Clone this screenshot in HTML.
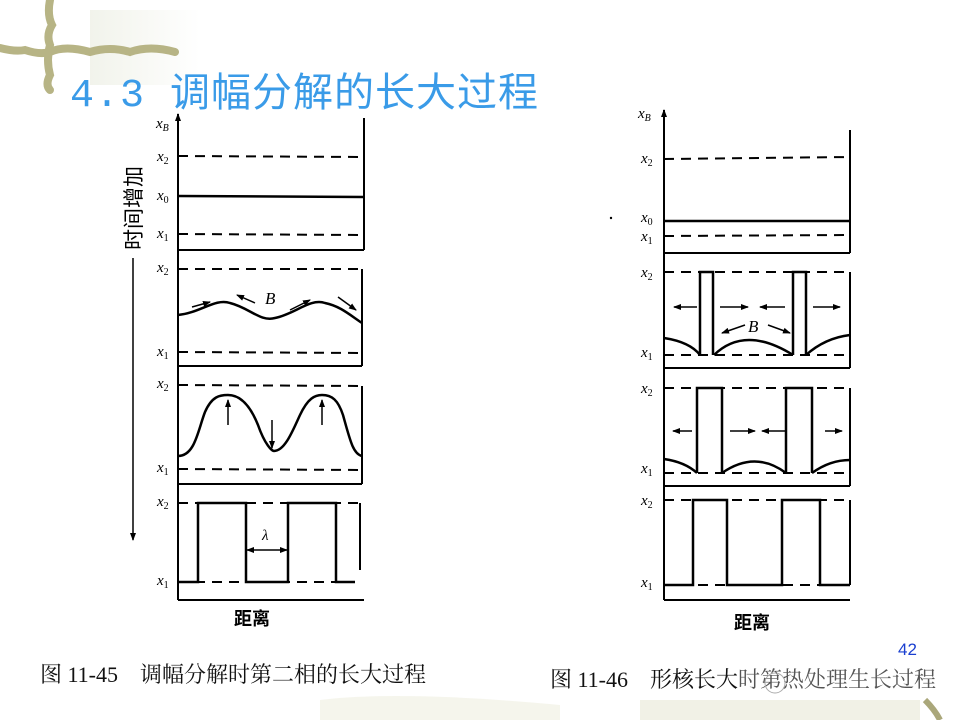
<!DOCTYPE html>
<html><head><meta charset="utf-8"><style>
html,body{margin:0;padding:0;background:#fff;}
svg{display:block;}
</style></head><body>
<svg width="960" height="720" viewBox="0 0 960 720" xmlns="http://www.w3.org/2000/svg" font-family="Liberation Serif,'Noto Serif CJK SC',serif">
<defs>
<marker id="ah" markerWidth="8" markerHeight="8" refX="7" refY="4" orient="auto-start-reverse" markerUnits="userSpaceOnUse"><path d="M0,1 L8,4 L0,7 Z" fill="#000"/></marker>
<linearGradient id="bg1" x1="0" y1="0" x2="1" y2="0"><stop offset="0" stop-color="#eef0e6"/><stop offset="1" stop-color="#fff"/></linearGradient>
</defs>
<rect x="0" y="0" width="960" height="720" fill="#fff"/>
<rect x="90" y="10" width="110" height="75" fill="url(#bg1)" opacity="0.8"/>
<g stroke="#b7b485" stroke-width="8" fill="none" stroke-linecap="round">
<path d="M50,0 Q47,15 52,25 Q46,35 50,45 Q46,60 50,75 Q45,85 50,90"/>
<path d="M0,48 Q15,52 25,50 Q40,55 50,52 Q65,45 90,52 Q110,46 130,52 Q150,45 175,52"/>
</g>
<path d="M320,700 Q400,690 560,705 L560,720 L320,720Z" fill="#eeeee0" opacity="0.6"/>
<rect x="640" y="700" width="280" height="20" fill="#f1f1e6"/>
<path d="M925,700 Q935,710 940,720" stroke="#aaa77a" stroke-width="6" fill="none"/>
<text x="70" y="106" font-size="40" fill="#3a9be8" letter-spacing="1" style="font-family:'Liberation Mono','Noto Sans CJK SC',sans-serif">4.3 调幅分解的长大过程</text>

<g stroke="#000" fill="none" stroke-width="2">
<line x1="178" y1="114" x2="178" y2="600" marker-start="url(#ah)"/>
<line x1="178" y1="600" x2="364" y2="600"/>
<line x1="364" y1="118" x2="364" y2="250"/>
<line x1="178" y1="250" x2="364" y2="250"/>
<line x1="178" y1="156" x2="364" y2="157" stroke-dasharray="10,7"/>
<line x1="178" y1="196" x2="364" y2="197" stroke-width="2.5"/>
<line x1="178" y1="234" x2="364" y2="235" stroke-dasharray="10,7"/>
<line x1="178" y1="269" x2="362" y2="269" stroke-dasharray="10,7"/>
<line x1="362" y1="269" x2="362" y2="366"/>
<line x1="178" y1="366" x2="362" y2="366"/>
<line x1="178" y1="352" x2="362" y2="353" stroke-dasharray="10,7"/>
<path d="M178,315 C200,313 215,298 230,303 C250,308 260,322 275,318 C295,314 310,298 325,303 C340,306 350,315 362,323" stroke-width="2.5"/>
<line x1="178" y1="385" x2="362" y2="386" stroke-dasharray="10,7"/>
<line x1="362" y1="386" x2="362" y2="484"/>
<line x1="178" y1="484" x2="362" y2="484"/>
<line x1="178" y1="469" x2="362" y2="470" stroke-dasharray="10,7"/>
<path d="M178,456 C195,456 198,430 205,412 C212,396 220,395 228,395 C240,395 250,405 258,425 C265,445 272,451 274,451 C285,451 293,430 300,415 C308,398 315,395 322,395 C332,395 338,400 343,415 C350,440 353,454 362,456" stroke-width="2.5"/>
<line x1="178" y1="503" x2="362" y2="503" stroke-dasharray="10,7"/>
<line x1="178" y1="582" x2="355" y2="582" stroke-dasharray="10,7"/>
<path d="M178,582 H198 V503 H246 V582 H288 V503 H336 V582 H355" stroke-width="2.5"/>
<line x1="360" y1="503" x2="360" y2="570"/>
</g>
<g stroke="#000" stroke-width="1.5" fill="none">
<line x1="192" y1="307" x2="210" y2="302" marker-end="url(#ah)"/>
<line x1="255" y1="303" x2="237" y2="295" marker-end="url(#ah)"/>
<line x1="290" y1="310" x2="310" y2="300" marker-end="url(#ah)"/>
<line x1="338" y1="297" x2="356" y2="310" marker-end="url(#ah)"/>
<line x1="228" y1="425" x2="228" y2="400" marker-end="url(#ah)"/>
<line x1="322" y1="425" x2="322" y2="400" marker-end="url(#ah)"/>
<line x1="272" y1="420" x2="272" y2="448" marker-end="url(#ah)"/>
<line x1="262" y1="550" x2="247" y2="550" marker-end="url(#ah)"/>
<line x1="262" y1="550" x2="287" y2="550" marker-end="url(#ah)"/>
<line x1="133" y1="258" x2="133" y2="540" marker-end="url(#ah)"/>
</g>
<g font-size="15" font-style="italic" fill="#000">
<text x="156" y="128">x<tspan font-size="10" dy="3">B</tspan></text>
<text x="157" y="161">x<tspan font-size="10" dy="3" font-style="normal">2</tspan></text>
<text x="157" y="200">x<tspan font-size="10" dy="3" font-style="normal">0</tspan></text>
<text x="157" y="238">x<tspan font-size="10" dy="3" font-style="normal">1</tspan></text>
<text x="157" y="272">x<tspan font-size="10" dy="3" font-style="normal">2</tspan></text>
<text x="157" y="356">x<tspan font-size="10" dy="3" font-style="normal">1</tspan></text>
<text x="157" y="388">x<tspan font-size="10" dy="3" font-style="normal">2</tspan></text>
<text x="157" y="472">x<tspan font-size="10" dy="3" font-style="normal">1</tspan></text>
<text x="157" y="506">x<tspan font-size="10" dy="3" font-style="normal">2</tspan></text>
<text x="157" y="585">x<tspan font-size="10" dy="3" font-style="normal">1</tspan></text>
<text x="265" y="304" font-size="17">B</text>
<text x="262" y="540" font-size="15">λ</text>
</g>
<text x="0" y="0" font-size="21" fill="#000" transform="translate(141,250) rotate(-90)" style="font-family:'Noto Sans CJK SC',sans-serif">时间增加</text>
<text x="234" y="625" font-size="18" fill="#000" font-weight="bold" style="font-family:'Noto Sans CJK SC',sans-serif">距离</text>

<g stroke="#000" fill="none" stroke-width="2">
<line x1="664" y1="110" x2="664" y2="600" marker-start="url(#ah)"/>
<line x1="664" y1="600" x2="850" y2="600"/>
<line x1="850" y1="130" x2="850" y2="253"/>
<line x1="664" y1="253" x2="850" y2="253"/>
<line x1="664" y1="159" x2="850" y2="157" stroke-dasharray="10,7"/>
<line x1="664" y1="221" x2="850" y2="221" stroke-width="2.5"/>
<line x1="664" y1="236" x2="850" y2="235" stroke-dasharray="10,7"/>
<line x1="664" y1="272" x2="850" y2="272" stroke-dasharray="10,7"/>
<line x1="850" y1="272" x2="850" y2="368"/>
<line x1="664" y1="368" x2="850" y2="368"/>
<line x1="664" y1="355" x2="850" y2="355" stroke-dasharray="10,7"/>
<path d="M700,355 V272 H713 V355 M793,355 V272 H806 V355" stroke-width="2.5"/>
<path d="M664,338 Q690,342 700,355 M714,355 Q745,325 793,355 M806,355 Q825,338 850,335" stroke-width="2.5"/>
<line x1="664" y1="388" x2="850" y2="388" stroke-dasharray="10,7"/>
<line x1="850" y1="388" x2="850" y2="486"/>
<line x1="664" y1="486" x2="850" y2="486"/>
<line x1="664" y1="473" x2="850" y2="473" stroke-dasharray="10,7"/>
<path d="M697,473 V388 H722 V473 M786,473 V388 H812 V473" stroke-width="2.5"/>
<path d="M664,459 Q685,462 697,473 M722,473 Q755,450 786,473 M812,473 Q830,460 850,460" stroke-width="2.5"/>
<line x1="664" y1="500" x2="850" y2="500" stroke-dasharray="10,7"/>
<line x1="850" y1="500" x2="850" y2="585"/>
<line x1="664" y1="585" x2="850" y2="585" stroke-dasharray="10,7"/>
<path d="M664,585 H693 V500 H727 V585 H782 V500 H820 V585 H850" stroke-width="2.5"/>
</g>
<g stroke="#000" stroke-width="1.5">
<line x1="697" y1="307" x2="674" y2="307" marker-end="url(#ah)"/>
<line x1="720" y1="307" x2="748" y2="307" marker-end="url(#ah)"/>
<line x1="785" y1="307" x2="760" y2="307" marker-end="url(#ah)"/>
<line x1="813" y1="307" x2="840" y2="307" marker-end="url(#ah)"/>
<line x1="745" y1="325" x2="722" y2="333" marker-end="url(#ah)"/>
<line x1="768" y1="325" x2="790" y2="333" marker-end="url(#ah)"/>
<line x1="692" y1="431" x2="673" y2="431" marker-end="url(#ah)"/>
<line x1="730" y1="431" x2="755" y2="431" marker-end="url(#ah)"/>
<line x1="785" y1="431" x2="762" y2="431" marker-end="url(#ah)"/>
<line x1="825" y1="431" x2="842" y2="431" marker-end="url(#ah)"/>
</g>
<g font-size="15" font-style="italic" fill="#000">
<text x="638" y="118">x<tspan font-size="10" dy="3">B</tspan></text>
<text x="641" y="163">x<tspan font-size="10" dy="3" font-style="normal">2</tspan></text>
<text x="641" y="222">x<tspan font-size="10" dy="3" font-style="normal">0</tspan></text>
<text x="641" y="241">x<tspan font-size="10" dy="3" font-style="normal">1</tspan></text>
<text x="641" y="277">x<tspan font-size="10" dy="3" font-style="normal">2</tspan></text>
<text x="641" y="357">x<tspan font-size="10" dy="3" font-style="normal">1</tspan></text>
<text x="641" y="393">x<tspan font-size="10" dy="3" font-style="normal">2</tspan></text>
<text x="641" y="473">x<tspan font-size="10" dy="3" font-style="normal">1</tspan></text>
<text x="641" y="505">x<tspan font-size="10" dy="3" font-style="normal">2</tspan></text>
<text x="641" y="587">x<tspan font-size="10" dy="3" font-style="normal">1</tspan></text>
<text x="748" y="332" font-size="17">B</text>
</g>
<circle cx="611" cy="218" r="1.2" fill="#000"/>
<text x="734" y="629" font-size="18" fill="#000" font-weight="bold" style="font-family:'Noto Sans CJK SC',sans-serif">距离</text>

<text x="40" y="682" font-size="22" fill="#111">图 11-45　调幅分解时第二相的长大过程</text>
<text x="550" y="687" font-size="22" fill="#111">图 11-46　形核长大<tspan fill="#555">时第热处理生长过程</tspan></text>
<circle cx="775" cy="683" r="10" fill="none" stroke="#aaa" stroke-width="1"/>
<text x="898" y="655" font-size="17" fill="#1a3fd0" style="font-family:'Liberation Sans',sans-serif">42</text>
</svg>
</body></html>
